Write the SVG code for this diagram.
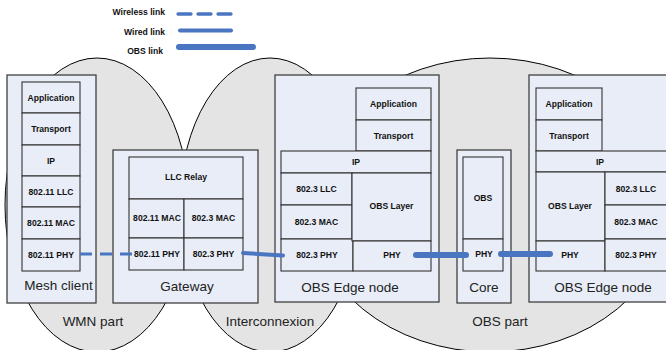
<svg xmlns="http://www.w3.org/2000/svg" width="666" height="350" viewBox="0 0 666 350">
<style>
.reg{fill:#e4e4e4;stroke:#000;stroke-width:1}
.box{fill:#e8edf7;stroke:#404040;stroke-width:1.3}
.ly{fill:#e8edf7;stroke:#333;stroke-width:1.1}
.t{font-family:"Liberation Sans",Arial,sans-serif;font-weight:bold;font-size:8.6px;fill:#111;text-anchor:middle;dominant-baseline:central}
.lg{font-family:"Liberation Sans",Arial,sans-serif;font-weight:bold;font-size:8.6px;fill:#111;text-anchor:end;dominant-baseline:central}
.n{font-family:"Liberation Sans",Arial,sans-serif;font-size:13.5px;fill:#222;text-anchor:middle;dominant-baseline:central}
.lk{stroke:#4a75c0;fill:none;stroke-linecap:round}
.wl{stroke-width:3;stroke-dasharray:12 8;stroke-linecap:butt}
.wd{stroke-width:4}
.ob{stroke-width:6}
</style>
<g id="regions">
<ellipse class="reg" cx="97" cy="205" rx="92" ry="147"/>
<ellipse class="reg" cx="270" cy="205" rx="90" ry="147"/>
<ellipse class="reg" cx="490" cy="205" rx="180" ry="147"/>
<text class="n" x="93" y="321">WMN part</text>
<text class="n" x="270" y="321">Interconnexion</text>
<text class="n" x="500" y="321">OBS part</text>
</g>
<g id="legend">
<text class="lg" x="165" y="12">Wireless link</text>
<text class="lg" x="165" y="32">Wired link</text>
<text class="lg" x="163" y="51">OBS link</text>
<line class="lk" x1="178" y1="14" x2="232" y2="14" stroke-width="3.3" stroke-dasharray="13 7" stroke-linecap="butt"/>
<line class="lk wd" x1="180" y1="30.5" x2="231" y2="30.5"/>
<line class="lk ob" x1="179" y1="47" x2="253" y2="47"/>
</g>
<g id="mesh-client">
<rect class="box" x="7" y="75" width="89" height="228"/>
<rect class="ly" x="22" y="82" width="58" height="31"/>
<rect class="ly" x="22" y="113" width="58" height="32"/>
<rect class="ly" x="22" y="145" width="58" height="31"/>
<rect class="ly" x="22" y="176" width="58" height="31"/>
<rect class="ly" x="22" y="207" width="58" height="32"/>
<rect class="ly" x="22" y="239" width="58" height="32"/>
<text class="t" x="51" y="97.5">Application</text>
<text class="t" x="51" y="129">Transport</text>
<text class="t" x="51" y="160.5">IP</text>
<text class="t" x="51" y="191.5">802.11 LLC</text>
<text class="t" x="51" y="223">802.11 MAC</text>
<text class="t" x="51" y="255">802.11 PHY</text>
<text class="n" x="58.5" y="285">Mesh client</text>
</g>
<g id="gateway">
<rect class="box" x="113" y="150" width="145" height="153"/>
<rect class="ly" x="129" y="157" width="114" height="42"/>
<rect class="ly" x="129" y="199" width="55" height="39"/>
<rect class="ly" x="184" y="199" width="59" height="39"/>
<rect class="ly" x="129" y="238" width="55" height="32"/>
<rect class="ly" x="184" y="238" width="59" height="32"/>
<text class="t" x="186" y="177">LLC Relay</text>
<text class="t" x="157" y="218">802.11 MAC</text>
<text class="t" x="213.5" y="218">802.3 MAC</text>
<text class="t" x="157" y="254">802.11 PHY</text>
<text class="t" x="213.5" y="254">802.3 PHY</text>
<text class="n" x="187" y="286">Gateway</text>
</g>
<g id="obs-edge-1">
<rect class="box" x="275" y="75" width="164" height="227"/>
<rect class="ly" x="356" y="88" width="75" height="32"/>
<rect class="ly" x="356" y="120" width="75" height="31"/>
<rect class="ly" x="281" y="151" width="150" height="22"/>
<rect class="ly" x="281" y="173" width="71" height="32"/>
<rect class="ly" x="281" y="205" width="71" height="34"/>
<rect class="ly" x="281" y="239" width="72" height="32"/>
<rect class="ly" x="352" y="173" width="79" height="68"/>
<rect class="ly" x="353" y="241" width="78" height="30"/>
<text class="t" x="393.5" y="104">Application</text>
<text class="t" x="393.5" y="135.5">Transport</text>
<text class="t" x="356" y="162">IP</text>
<text class="t" x="316.5" y="189">802.3 LLC</text>
<text class="t" x="316.5" y="222">802.3 MAC</text>
<text class="t" x="317" y="255">802.3 PHY</text>
<text class="t" x="391.5" y="206">OBS Layer</text>
<text class="t" x="392" y="255">PHY</text>
<text class="n" x="350" y="287">OBS Edge node</text>
</g>
<g id="core">
<rect class="box" x="457" y="150" width="54" height="153"/>
<rect class="ly" x="463" y="157" width="40" height="82"/>
<rect class="ly" x="463" y="239" width="40" height="32"/>
<text class="t" x="483" y="198">OBS</text>
<text class="t" x="484" y="254">PHY</text>
<text class="n" x="484" y="287">Core</text>
</g>
<g id="obs-edge-2">
<rect class="box" x="529" y="75" width="150" height="227"/>
<rect class="ly" x="536" y="88" width="66" height="32"/>
<rect class="ly" x="536" y="120" width="66" height="31"/>
<rect class="ly" x="536" y="151" width="140" height="21"/>
<rect class="ly" x="536" y="172" width="69" height="69"/>
<rect class="ly" x="536" y="241" width="69" height="30"/>
<rect class="ly" x="605" y="172" width="62" height="33"/>
<rect class="ly" x="605" y="205" width="62" height="34"/>
<rect class="ly" x="605" y="239" width="62" height="32"/>
<text class="t" x="569" y="104">Application</text>
<text class="t" x="569" y="135.5">Transport</text>
<text class="t" x="600" y="162">IP</text>
<text class="t" x="570" y="206">OBS Layer</text>
<text class="t" x="570" y="255">PHY</text>
<text class="t" x="636" y="189">802.3 LLC</text>
<text class="t" x="636" y="222">802.3 MAC</text>
<text class="t" x="636" y="255">802.3 PHY</text>
<text class="n" x="603" y="287">OBS Edge node</text>
</g>
<g id="connectors">
<line class="lk wl" x1="80" y1="254" x2="132" y2="254"/>
<line class="lk wd" x1="243" y1="253" x2="283" y2="255.5"/>
<line class="lk ob" x1="416" y1="255" x2="466" y2="255"/>
<line class="lk ob" x1="501" y1="254" x2="550" y2="254"/>
</g>
</svg>
